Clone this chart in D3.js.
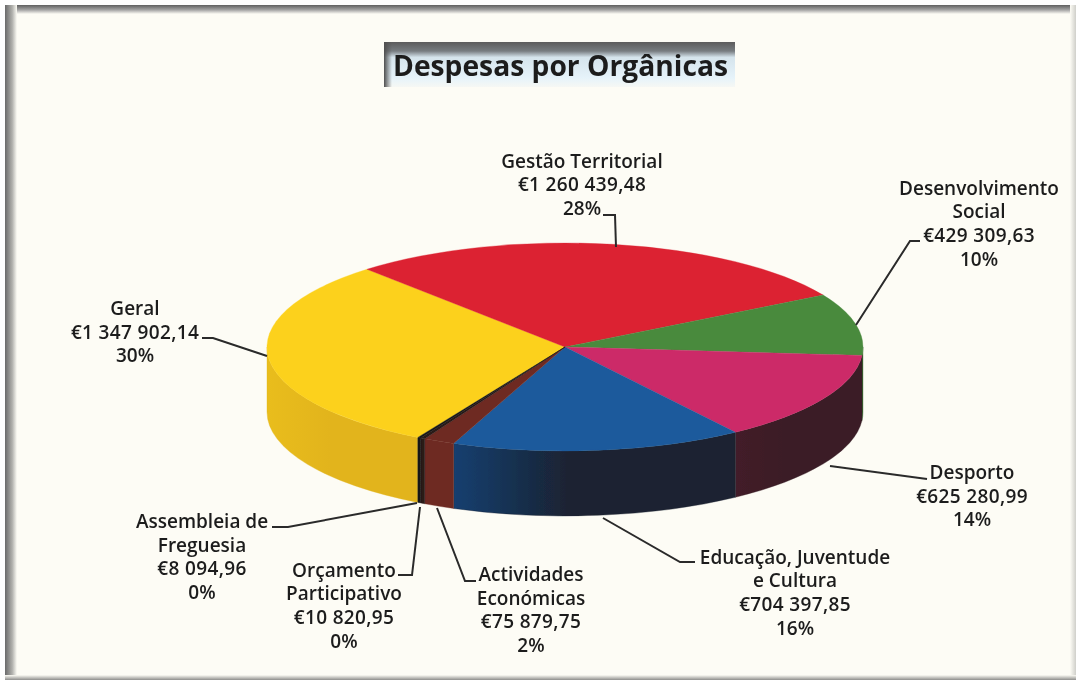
<!DOCTYPE html>
<html><head><meta charset="utf-8">
<script src="https://cdn.jsdelivr.net/npm/d3@7"></script>
<style>html,body{margin:0;padding:0;background:#fff}svg{display:block}
text{font-family:"Open Sans","DejaVu Sans",sans-serif;fill:#1c1c1c}</style></head>
<body><script>
const categories=["Geral","Gestão Territorial","Desenvolvimento Social","Desporto","Educação, Juventude e Cultura","Actividades Económicas","Orçamento Participativo","Assembleia de Freguesia"];
const values=[1347902.14,1260439.48,429309.63,625280.99,704397.85,75879.75,10820.95,8094.96];
const valueLabels=["€1 347 902,14","€1 260 439,48","€429 309,63","€625 280,99","€704 397,85","€75 879,75","€10 820,95","€8 094,96"];
const percentLabels=["30%","28%","10%","14%","16%","2%","0%","0%"];
const topColors=["#fcd11c","#dc2231","#4a8a3e","#cc2a68","#1c5a9c","#6e2a22","#2a1a18","#141414"];
const wallColorsA=["#e9bd1e","#a81825","#35642c","#431f29","#143f70","#6e2a22","#2a1a18","#141414"];
const wallColorsB=["#e2b41c","#a81825","#35642c","#3a1e26","#1b2230","#6e2a22","#2a1a18","#141414"];
const titleText="Despesas por Orgânicas";
const labelLines=[["Geral"],["Gestão Territorial"],["Desenvolvimento","Social"],["Desporto"],["Educação, Juventude","e Cultura"],["Actividades","Económicas"],["Orçamento","Participativo"],["Assembleia de","Freguesia"]];
// layout (annotation placement, separate from data)
const labelAt=[[135,315],[582,167.5],[979,194.5],[972,479],[795,563.5],[531,581],[344,576.5],[202,528]];
const leaders=[[[202,338],[213,338],[267,356]],[[603,215],[615,215],[616,247]],[[920,241],[910,241],[856,325]],[[927,479],[830,466]],[[695,562],[680,562],[603,518]],[[476,581],[465,581],[437,508]],[[398,575],[412,575],[420,507]],[[272,527],[288,527],[417,503]]];
const W=1079,H=682,cx=565,cy=347,rx=298,ry=104,depth=65,lineH=23.7;

const svg=d3.select("body").append("svg").attr("width",W).attr("height",H);
const defs=svg.append("defs");
defs.append("filter").attr("id","soft").attr("x","-5%").attr("y","-5%").attr("width","110%").attr("height","110%")
  .append("feGaussianBlur").attr("stdDeviation",0.45);
function grad(id,stops,x2,y2){const g=defs.append("linearGradient").attr("id",id).attr("x1",0).attr("y1",0).attr("x2",x2).attr("y2",y2);
  stops.forEach(s=>g.append("stop").attr("offset",s[0]).attr("stop-color",s[1]).attr("stop-opacity",s[2]===undefined?1:s[2]));}
grad("fT",[[0,"#5f5f5f"],[.55,"#a5a5a5"],[1,"#fdfcf5"]],0,1);
grad("fL",[[0,"#6a6a6a"],[.6,"#b0b0ac"],[1,"#fdfcf5"]],1,0);
grad("fR",[[0,"#fdfcf5"],[1,"#cfcfca"]],1,0);
grad("fB",[[0,"#fdfcf5"],[1,"#8e8e8c"]],0,1);
grad("tt",[[0,"#5c5c5c"],[.2,"#777c80"],[.34,"#d5e4ec"],[.8,"#e6f3fa"],[1,"#f6f8f4"]],0,1);
grad("tl",[[0,"#4f4f4f"],[1,"#555",0]],1,0);

svg.append("rect").attr("x",5).attr("y",5).attr("width",1071).attr("height",675).attr("fill","#fdfcf5");
svg.append("rect").attr("x",5).attr("y",5).attr("width",1071).attr("height",9).attr("fill","url(#fT)");
svg.append("rect").attr("x",5).attr("y",5).attr("width",12).attr("height",675).attr("fill","url(#fL)");
svg.append("rect").attr("x",1070).attr("y",5).attr("width",6).attr("height",675).attr("fill","url(#fR)");
svg.append("rect").attr("x",5).attr("y",675).attr("width",1071).attr("height",5).attr("fill","url(#fB)");

// title
svg.append("rect").attr("x",384).attr("y",42).attr("width",351).attr("height",45).attr("fill","url(#tt)");
svg.append("rect").attr("x",384).attr("y",42).attr("width",8).attr("height",45).attr("fill","url(#tl)");

const chart=svg.append("g").attr("filter","url(#soft)");
chart.append("text").attr("x",560.5).attr("y",75.5).attr("text-anchor","middle")
  .attr("font-size",29).attr("font-weight",700).attr("textLength",335).attr("lengthAdjust","spacingAndGlyphs").text(titleText);

const startA=-150.4*Math.PI/180;
const arcs=d3.pie().sort(null).startAngle(startA).endAngle(startA+2*Math.PI)(values);
const k=ry/rx, pieG=chart.append("g").attr("transform",`translate(${cx},${cy}) scale(1,${k})`);
const arcGen=d3.arc().innerRadius(0).outerRadius(rx);
const dScaled=depth/k;

function wallPath(a0,a1){
  const p=d3.path(),s=a0-Math.PI/2,e=a1-Math.PI/2;
  p.moveTo(rx*Math.cos(s),rx*Math.sin(s));
  p.arc(0,0,rx,s,e,false);
  p.lineTo(rx*Math.cos(e),rx*Math.sin(e)+dScaled);
  p.arc(0,dScaled,rx,e,s,true);
  p.closePath();
  return p.toString();
}
// front walls only: visible between the right-most and left-most points of the ellipse
const frontMin=Math.PI/2,frontMax=3*Math.PI/2;
arcs.forEach((d,i)=>{
  grad("w"+i,[[0,wallColorsA[i]],[.42,wallColorsB[i]],[1,wallColorsB[i]]],1,0);
  [[d.startAngle,d.endAngle],[d.startAngle+2*Math.PI,d.endAngle+2*Math.PI],[d.startAngle-2*Math.PI,d.endAngle-2*Math.PI]].forEach(([a,b])=>{
    const a0=Math.max(a,frontMin),a1=Math.min(b,frontMax);
    if(a1>a0) pieG.append("path").attr("d",wallPath(a0,a1)).attr("fill",`url(#w${i})`).attr("stroke",wallColorsB[i]).attr("stroke-width",.5);
  });
});
pieG.selectAll("path.top").data(arcs).join("path").attr("class","top").attr("d",arcGen)
  .attr("fill",(d,i)=>topColors[i]).attr("stroke",(d,i)=>topColors[i]).attr("stroke-width",.5);

// leaders
const line=d3.line();
chart.selectAll("path.leader").data(leaders).join("path").attr("class","leader").attr("d",line)
  .attr("fill","none").attr("stroke","#2a2a2a").attr("stroke-width",2);

// labels
categories.forEach((c,i)=>{
  const t=chart.append("text").attr("text-anchor","middle").attr("font-size",19).attr("font-weight",600);
  const names=labelLines[i];
  names.concat([valueLabels[i],percentLabels[i]]).forEach((s,j)=>{
    t.append("tspan").attr("x",labelAt[i][0]).attr("y",labelAt[i][1]+j*lineH)
      .attr("letter-spacing",j===names.length?0.35:0).text(s);
  });
});
</script></body></html>
